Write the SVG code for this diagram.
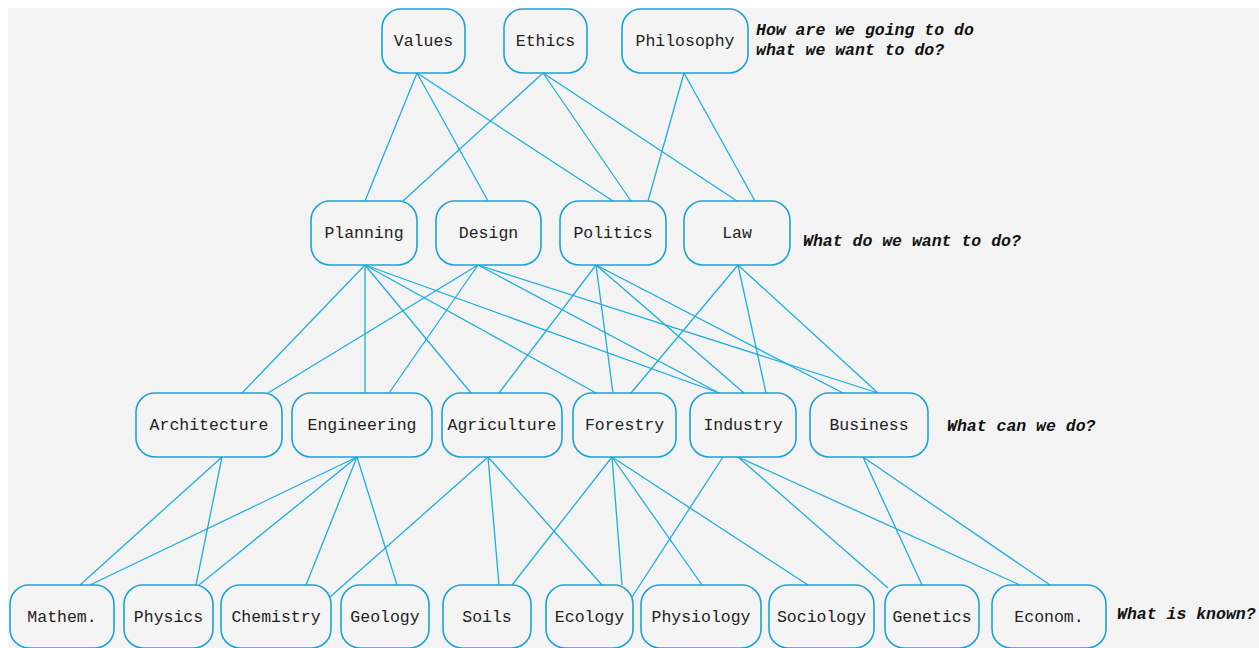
<svg xmlns="http://www.w3.org/2000/svg" width="1259" height="648" viewBox="0 0 1259 648">
<style>
.bg{fill:#f3f3f3}
.n rect{fill:#f4f4f4;stroke:#1aa3da;stroke-width:1.6}
.n text{font-family:"Liberation Mono","Courier New",monospace;font-size:16.5px;fill:#222;text-anchor:middle}
.q{font-family:"Liberation Mono","Courier New",monospace;font-size:16.5px;font-weight:bold;font-style:italic;fill:#111}
#edges line{stroke:#1eaee0;stroke-width:1.3}
</style>
<rect width="1259" height="648" fill="#ffffff"/>
<rect class="bg" x="8" y="8" width="1251" height="640"/>
<g id="edges">
<line x1="417" y1="73" x2="365" y2="201"/>
<line x1="417" y1="73" x2="488" y2="201"/>
<line x1="417" y1="73" x2="613" y2="201"/>
<line x1="543" y1="73" x2="403" y2="201"/>
<line x1="543" y1="73" x2="631" y2="201"/>
<line x1="543" y1="73" x2="737" y2="201"/>
<line x1="684" y1="73" x2="648" y2="201"/>
<line x1="684" y1="73" x2="755" y2="201"/>
<line x1="365" y1="265" x2="242" y2="393"/>
<line x1="365" y1="265" x2="365" y2="393"/>
<line x1="365" y1="265" x2="471" y2="393"/>
<line x1="365" y1="265" x2="596" y2="393"/>
<line x1="365" y1="265" x2="719" y2="393"/>
<line x1="478" y1="265" x2="268" y2="393"/>
<line x1="478" y1="265" x2="389" y2="393"/>
<line x1="478" y1="265" x2="719" y2="393"/>
<line x1="478" y1="265" x2="878" y2="393"/>
<line x1="596" y1="265" x2="499" y2="393"/>
<line x1="596" y1="265" x2="613" y2="393"/>
<line x1="596" y1="265" x2="744" y2="393"/>
<line x1="596" y1="265" x2="843" y2="393"/>
<line x1="738" y1="265" x2="631" y2="393"/>
<line x1="738" y1="265" x2="766" y2="393"/>
<line x1="738" y1="265" x2="878" y2="393"/>
<line x1="222" y1="457" x2="80" y2="585"/>
<line x1="222" y1="457" x2="196" y2="585"/>
<line x1="357" y1="457" x2="90" y2="585"/>
<line x1="357" y1="457" x2="199" y2="585"/>
<line x1="357" y1="457" x2="306" y2="585"/>
<line x1="357" y1="457" x2="397" y2="585"/>
<line x1="488" y1="457" x2="330" y2="597"/>
<line x1="488" y1="457" x2="499" y2="585"/>
<line x1="488" y1="457" x2="602" y2="585"/>
<line x1="612" y1="457" x2="512" y2="585"/>
<line x1="612" y1="457" x2="622" y2="585"/>
<line x1="612" y1="457" x2="702" y2="585"/>
<line x1="612" y1="457" x2="808" y2="585"/>
<line x1="723" y1="457" x2="632" y2="597"/>
<line x1="738" y1="457" x2="888" y2="588"/>
<line x1="738" y1="457" x2="1020" y2="585"/>
<line x1="863" y1="457" x2="922" y2="585"/>
<line x1="863" y1="457" x2="1050" y2="585"/>
</g>
<g id="values" class="n"><rect x="382" y="9" width="83" height="64" rx="19"/><text x="423.5" y="46">Values</text></g>
<g id="ethics" class="n"><rect x="504" y="9" width="83" height="64" rx="19"/><text x="545.5" y="46">Ethics</text></g>
<g id="philosophy" class="n"><rect x="622" y="9" width="126" height="64" rx="19"/><text x="685" y="46">Philosophy</text></g>
<g id="planning" class="n"><rect x="311" y="201" width="106" height="64" rx="19"/><text x="364" y="238">Planning</text></g>
<g id="design" class="n"><rect x="436" y="201" width="105" height="64" rx="19"/><text x="488.5" y="238">Design</text></g>
<g id="politics" class="n"><rect x="560" y="201" width="106" height="64" rx="19"/><text x="613" y="238">Politics</text></g>
<g id="law" class="n"><rect x="684" y="201" width="106" height="64" rx="19"/><text x="737" y="238">Law</text></g>
<g id="architecture" class="n"><rect x="136" y="393" width="146" height="64" rx="19"/><text x="209" y="430">Architecture</text></g>
<g id="engineering" class="n"><rect x="292" y="393" width="140" height="64" rx="19"/><text x="362" y="430">Engineering</text></g>
<g id="agriculture" class="n"><rect x="442" y="393" width="120" height="64" rx="19"/><text x="502" y="430">Agriculture</text></g>
<g id="forestry" class="n"><rect x="573" y="393" width="103" height="64" rx="19"/><text x="624.5" y="430">Forestry</text></g>
<g id="industry" class="n"><rect x="690" y="393" width="106" height="64" rx="19"/><text x="743" y="430">Industry</text></g>
<g id="business" class="n"><rect x="810" y="393" width="118" height="64" rx="19"/><text x="869" y="430">Business</text></g>
<g id="mathem" class="n"><rect x="10" y="585" width="104" height="63" rx="19"/><text x="62" y="622">Mathem.</text></g>
<g id="physics" class="n"><rect x="124" y="585" width="89" height="63" rx="19"/><text x="168.5" y="622">Physics</text></g>
<g id="chemistry" class="n"><rect x="221" y="585" width="110" height="63" rx="19"/><text x="276" y="622">Chemistry</text></g>
<g id="geology" class="n"><rect x="341" y="585" width="88" height="63" rx="19"/><text x="385" y="622">Geology</text></g>
<g id="soils" class="n"><rect x="443" y="585" width="88" height="63" rx="19"/><text x="487" y="622">Soils</text></g>
<g id="ecology" class="n"><rect x="546" y="585" width="87" height="63" rx="19"/><text x="589.5" y="622">Ecology</text></g>
<g id="physiology" class="n"><rect x="641" y="585" width="120" height="63" rx="19"/><text x="701" y="622">Physiology</text></g>
<g id="sociology" class="n"><rect x="769" y="585" width="105" height="63" rx="19"/><text x="821.5" y="622">Sociology</text></g>
<g id="genetics" class="n"><rect x="885" y="585" width="94" height="63" rx="19"/><text x="932" y="622">Genetics</text></g>
<g id="econom" class="n"><rect x="992" y="585" width="114" height="63" rx="19"/><text x="1049" y="622">Econom.</text></g>
<g id="annotations">
<text class="q" x="756" y="35">How are we going to do</text>
<text class="q" x="756" y="55">what we want to do?</text>
<text class="q" x="803" y="246">What do we want to do?</text>
<text class="q" x="947" y="431">What can we do?</text>
<text class="q" x="1117" y="619">What is known?</text>
</g>
</svg>
